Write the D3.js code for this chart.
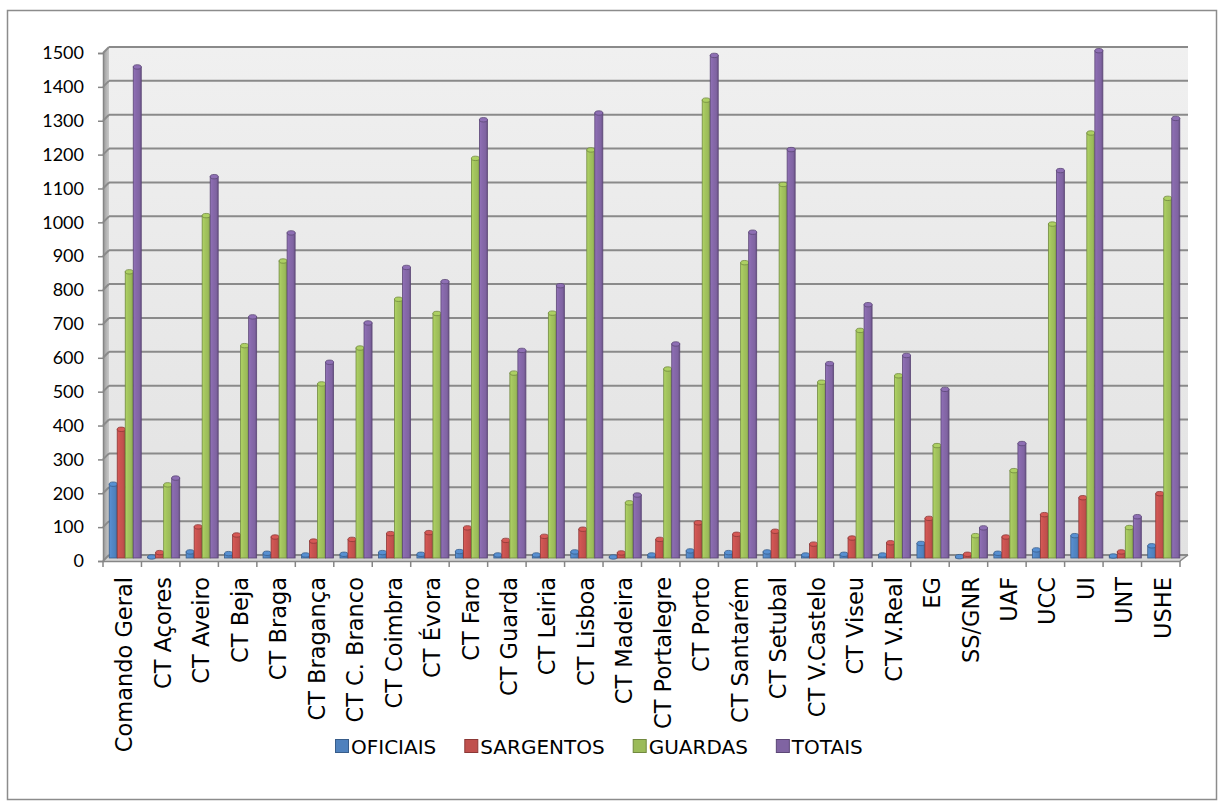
<!DOCTYPE html>
<html>
<head>
<meta charset="utf-8">
<script src="https://cdn.jsdelivr.net/npm/d3@7/dist/d3.min.js"></script>
<style>
  html, body { margin: 0; padding: 0; background: #ffffff; }
  svg { display: block; }
</style>
</head>
<body>
<svg id="chart" width="1223" height="807"></svg>
<script>
// Efectivos por unidade
const categories = ["Comando Geral", "CT Açores", "CT Aveiro", "CT Beja", "CT Braga", "CT Bragança",
  "CT C. Branco", "CT Coimbra", "CT Évora", "CT Faro", "CT Guarda", "CT Leiria", "CT Lisboa",
  "CT Madeira", "CT Portalegre", "CT Porto", "CT Santarém", "CT Setubal", "CT V.Castelo",
  "CT Viseu", "CT V.Real", "EG", "SS/GNR", "UAF", "UCC", "UI", "UNT", "USHE"];

const oficiais  = [218, 3, 18, 13, 14, 9, 11, 16, 11, 19, 9, 9, 18, 3, 9, 21, 16, 18, 9, 11, 9, 43, 4, 14, 24, 66, 6, 36];
const sargentos = [380, 16, 92, 68, 62, 50, 55, 72, 75, 89, 52, 64, 85, 15, 55, 104, 70, 79, 41, 59, 45, 117, 11, 62, 128, 178, 18, 190];
const guardas   = [845, 216, 1011, 627, 877, 514, 620, 764, 722, 1180, 546, 723, 1205, 163, 558, 1352, 872, 1103, 519, 672, 538, 332, 66, 258, 986, 1255, 90, 1062];
const totais    = [1450, 236, 1126, 712, 960, 578, 694, 858, 816, 1294, 613, 804, 1314, 186, 632, 1484, 962, 1206, 574, 748, 598, 498, 89, 338, 1144, 1498, 122, 1298];

const seriesNames = ["OFICIAIS", "SARGENTOS", "GUARDAS", "TOTAIS"];
const seriesValues = [oficiais, sargentos, guardas, totais];
const yTicks = [0, 100, 200, 300, 400, 500, 600, 700, 800, 900, 1000, 1100, 1200, 1300, 1400, 1500];

const colors = ["#4F81BD", "#C0504D", "#9BBB59", "#8064A2"];
const edges  = ["#385D8A", "#8C3836", "#71893F", "#5C4776"];

const svg = d3.select("#chart");
const W = 1223, H = 807;

// frame
svg.append("rect").attr("x", 0).attr("y", 0).attr("width", W).attr("height", H).attr("fill", "#fff");
svg.append("rect").attr("x", 7.5).attr("y", 10.5).attr("width", 1209).attr("height", 789)
  .attr("fill", "none").attr("stroke", "#8c8c8c").attr("stroke-width", 1.5);

// front plane geometry and depth of the 3D box
const xLeft = 103, xRight = 1180;
const depth = { dx: 6, dy: -6 };
const y = d3.scaleLinear().domain([0, 1500]).range([561, 53]);
const x0 = d3.scaleBand().domain(categories).range([xLeft, xRight]).paddingInner(0).paddingOuter(0);
const x1 = d3.scaleBand().domain(seriesNames).range([0, x0.bandwidth()]).paddingInner(0).paddingOuter(0.4);

const defs = svg.append("defs");
const wallGrad = defs.append("linearGradient").attr("id", "wall").attr("x1", 0).attr("y1", 0).attr("x2", 0).attr("y2", 1);
wallGrad.append("stop").attr("offset", "0%").attr("stop-color", "#f0f0f0");
wallGrad.append("stop").attr("offset", "100%").attr("stop-color", "#e2e2e2");
const sideGrad = defs.append("linearGradient").attr("id", "side").attr("x1", 0).attr("y1", 0).attr("x2", 1).attr("y2", 0);
sideGrad.append("stop").attr("offset", "0%").attr("stop-color", "#9a9a9a");
sideGrad.append("stop").attr("offset", "100%").attr("stop-color", "#c8c8c8");

colors.forEach((c, i) => {
  const g = defs.append("linearGradient").attr("id", "bar" + i).attr("x1", 0).attr("y1", 0).attr("x2", 1).attr("y2", 0);
  const base = d3.color(c);
  g.append("stop").attr("offset", "0%").attr("stop-color", base.brighter(0.35));
  g.append("stop").attr("offset", "35%").attr("stop-color", base.brighter(0.15));
  g.append("stop").attr("offset", "75%").attr("stop-color", base);
  g.append("stop").attr("offset", "100%").attr("stop-color", base.darker(0.6));
});

const yTop = y(1500), yBot = y(0);

// side wall
svg.append("polygon")
  .attr("points", [[xLeft, yTop], [xLeft + depth.dx, yTop + depth.dy], [xLeft + depth.dx, yBot + depth.dy], [xLeft, yBot]].join(" "))
  .attr("fill", "url(#side)");
// back wall
svg.append("rect")
  .attr("x", xLeft + depth.dx).attr("y", yTop + depth.dy)
  .attr("width", xRight + depth.dx + 2 - (xLeft + depth.dx)).attr("height", yBot - yTop)
  .attr("fill", "url(#wall)");
// floor
svg.append("polygon")
  .attr("points", [[xLeft, yBot], [xRight, yBot], [xRight + depth.dx + 2, yBot + depth.dy], [xLeft + depth.dx, yBot + depth.dy]].join(" "))
  .attr("fill", "#d4d4d4");

// gridlines on the back wall and side wall
const grid = svg.append("g");
yTicks.forEach(v => {
  const yf = y(v), yb = y(v) + depth.dy;
  grid.append("line").attr("x1", xLeft + depth.dx).attr("x2", xRight + depth.dx + 2)
    .attr("y1", yb).attr("y2", yb).attr("stroke", "#8a8a8a").attr("stroke-width", 2);
  grid.append("line").attr("x1", xLeft).attr("x2", xLeft + depth.dx)
    .attr("y1", yf).attr("y2", yb).attr("stroke", "#8a8a8a").attr("stroke-width", 2);
});

// y axis
const yAxis = d3.axisLeft(y).tickValues(yTicks).tickSize(5).tickPadding(14).tickFormat(d3.format("d"));
const yg = svg.append("g").attr("transform", `translate(${xLeft},0)`).call(yAxis);
yg.select(".domain").attr("stroke", "#868686").attr("stroke-width", 1.5);
yg.selectAll(".tick line").attr("stroke", "#868686").attr("stroke-width", 1.5);
yg.selectAll(".tick text").attr("font-family", "Lato, 'DejaVu Sans', sans-serif").attr("font-size", 18).attr("fill", "#000");

// x axis: baseline and ticks between categories
const xAxis = d3.axisBottom(x0).tickSize(0).tickFormat("");
const xg = svg.append("g").attr("transform", `translate(0,${yBot})`).call(xAxis);
xg.select(".domain").attr("stroke", "#868686").attr("stroke-width", 1.5);
const bounds = categories.map(c => x0(c)).concat([xRight]);
xg.selectAll(".sep").data(bounds).enter().append("line").attr("class", "sep")
  .attr("x1", d => d).attr("x2", d => d).attr("y1", 0).attr("y2", 6)
  .attr("stroke", "#868686").attr("stroke-width", 1.5);
svg.append("line").attr("x1", xRight).attr("y1", yBot).attr("x2", xRight + depth.dx + 2).attr("y2", yBot + depth.dy)
  .attr("stroke", "#868686").attr("stroke-width", 1.5);

// category labels
svg.append("g").selectAll("text").data(categories).enter().append("text")
  .attr("transform", d => `translate(${x0(d) + x0.bandwidth() / 2 + 2},${yBot + 16}) rotate(-90)`)
  .attr("text-anchor", "end").attr("dy", "0.36em")
  .attr("font-family", "'DejaVu Sans', sans-serif").attr("font-size", 22.5).attr("fill", "#000")
  .text(d => d);

// bars, set at mid depth
const bx = depth.dx / 2, by = depth.dy / 2;
const bars = svg.append("g");
categories.forEach((cat, ci) => {
  seriesNames.forEach((s, si) => {
    const v = seriesValues[si][ci];
    const w = x1.bandwidth();
    const left = x0(cat) + x1(s) + bx;
    const top = y(v) + by, bottom = y(0) + by;
    const g = bars.append("g");
    g.append("rect").attr("x", left).attr("y", top).attr("width", w).attr("height", Math.max(0, bottom - top))
      .attr("fill", `url(#bar${si})`).attr("stroke", edges[si]).attr("stroke-width", 0.8);
    g.append("ellipse").attr("cx", left + w / 2).attr("cy", top).attr("rx", w / 2).attr("ry", 2.2)
      .attr("fill", d3.color(colors[si]).brighter(0.3)).attr("stroke", edges[si]).attr("stroke-width", 0.8);
  });
});

// legend
const legend = svg.append("g");
let lx = 335;
seriesNames.forEach((s, i) => {
  legend.append("rect").attr("x", lx + 0.5).attr("y", 739.5).attr("width", 13).attr("height", 13)
    .attr("fill", colors[i]).attr("stroke", edges[i]).attr("stroke-width", 1);
  const t = legend.append("text").attr("x", lx + 16).attr("y", 753.5)
    .attr("font-family", "'DejaVu Sans', sans-serif").attr("font-size", 20).attr("fill", "#000").text(s);
  lx += 16 + t.node().getComputedTextLength() + 28;
});
</script>
</body>
</html>
